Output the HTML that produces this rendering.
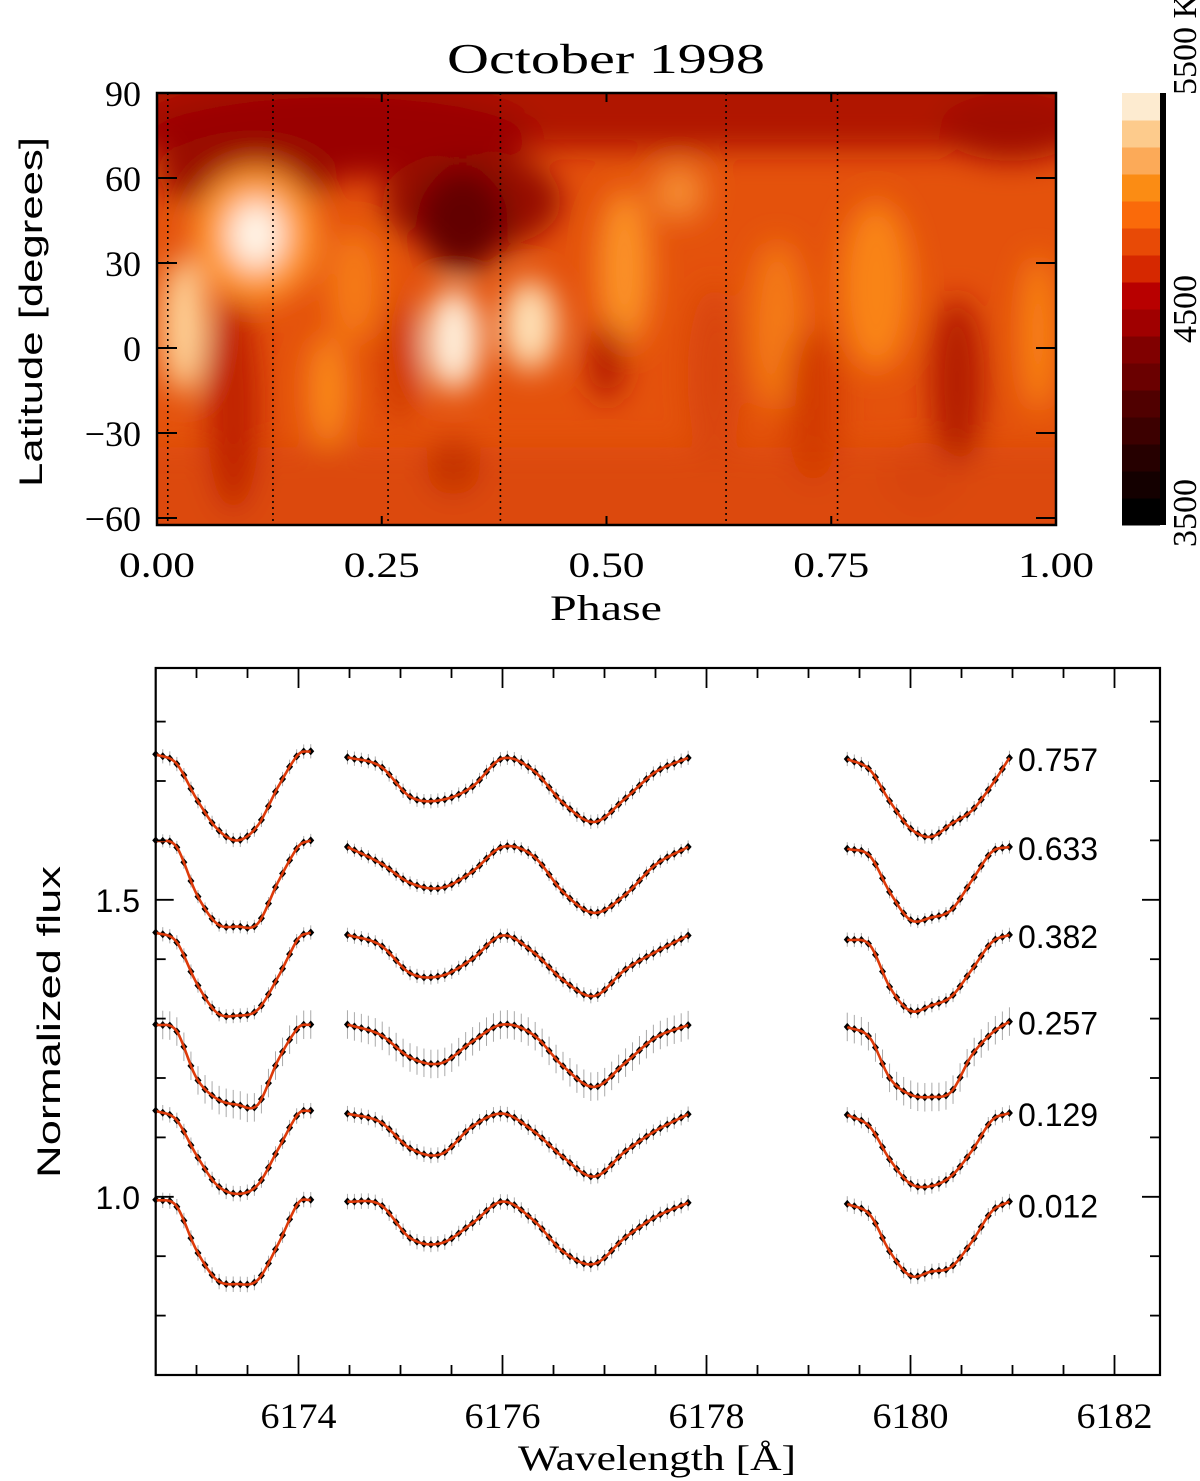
<!DOCTYPE html>
<html><head><meta charset="utf-8">
<style>
html,body{margin:0;padding:0;background:#fff;}
svg{display:block;}
.serif{font-family:"Liberation Serif",serif;}
.sans{font-family:"Liberation Sans",sans-serif;}
</style></head>
<body>
<svg id="fig" width="1200" height="1481" viewBox="0 0 1200 1481" xmlns="http://www.w3.org/2000/svg">
<defs>
  <clipPath id="mapclip"><rect x="157" y="93" width="899" height="432"/></clipPath>
  <filter id="blur" x="-20%" y="-20%" width="140%" height="140%"><feGaussianBlur stdDeviation="15"/></filter>
</defs>
<g id="map"></g>
<g id="cbar"></g>
<g id="spec"></g>
<text class="serif" x="606" y="73" font-size="42" text-anchor="middle" textLength="318" lengthAdjust="spacingAndGlyphs">October 1998</text>
<text class="serif" x="606" y="620" font-size="36" text-anchor="middle" textLength="112" lengthAdjust="spacingAndGlyphs">Phase</text>
<text class="sans" transform="translate(42,312) rotate(-90)" font-size="32" text-anchor="middle" textLength="350" lengthAdjust="spacingAndGlyphs">Latitude [degrees]</text>
<text class="sans" transform="translate(60,1022) rotate(-90)" font-size="32" text-anchor="middle" textLength="312" lengthAdjust="spacingAndGlyphs">Normalized flux</text>
<text class="serif" x="657" y="1470" font-size="36" text-anchor="middle" textLength="278" lengthAdjust="spacingAndGlyphs">Wavelength [Å]</text>
</svg>
<script>
// ---------- MAP DATA ----------
const obsPhases = [0.012, 0.129, 0.257, 0.382, 0.633, 0.757];
const latTicks = [90, 60, 30, 0, -30, -60];
const phaseTicks = [0.00, 0.25, 0.50, 0.75, 1.00];
const phaseTickLabels = ["0.00", "0.25", "0.50", "0.75", "1.00"];
// spot features: phase, latitude, phase radius, latitude radius, color
const spotPhase = [0.20, 0.10, 0.35, 0.34, 0.95, 0.11, 0.11, 0.03, 0.33, 0.415, 0.52, 0.19, 0.22, 0.80, 0.69, 0.98, 0.58, 0.085, 0.50, 0.89, 0.33, 0.27, 0.62, 0.73, 0.85];
const spotLat   = [76,   62,   52,   45,   78,   40,   40,   8,    3,    8,     28,   -15,  22,   22,   8,    5,    55,   -20,   -5,   -12,  -42,  -5,   -10,  -20,  -45];
const spotRp    = [0.22, 0.10, 0.10, 0.05, 0.08, 0.07, 0.03, 0.025,0.03, 0.03,  0.03, 0.022,0.03, 0.04, 0.03, 0.02, 0.03, 0.03,  0.02, 0.03, 0.03, 0.02, 0.03, 0.03, 0.04];
const spotRl    = [16,   14,   18,   18,   12,   24,   12,   24,   18,   16,    28,   20,   20,   30,   30,   28,   10,   38,    14,   30,   10,   22,   32,   28,   12];
const spotColor = ["#9a0600","#9a0800","#960800","#640000","#a00800","#ff9a30","#fff6ea","#ffd49a","#fff0dc","#ffe2b8","#fb9228","#fa8a1c","#f57a14","#f98418","#f47a14","#f98418","#f48a30","#c02000","#b41c00","#b41a00","#c43200","#d03a06","#d84408","#d23a06","#d84408"];
// ---------- COLORBAR DATA ----------
const cbarColors = ["#000000","#140000","#260000","#3c0000","#500000","#6a0000","#800000","#a00000","#b80000","#d62800","#e84a06","#fa6a0a","#fb8c14","#fcaa58","#fdcb8c","#fdebd0"];
const cbarLabels = ["3500", "4500", "5500 K"];
const cbarLabelVals = [0, 0.5, 1];

// ---------- SPECTRA DATA ----------
const specLabels = ["0.012", "0.129", "0.257", "0.382", "0.633", "0.757"];
const seg1W = [6172.6, 6172.8, 6173.0, 6173.2, 6173.4, 6173.6, 6173.8, 6174.0, 6174.12];
const seg2W = [6174.48, 6174.8, 6175.1, 6175.4, 6175.7, 6176.0, 6176.3, 6176.6, 6176.9, 6177.2, 6177.5, 6177.82];
const seg3W = [6179.38, 6179.6, 6179.8, 6180.0, 6180.2, 6180.4, 6180.6, 6180.8, 6180.97];
const seg1F = [
  [0.995, 0.985, 0.91, 0.86, 0.853, 0.86, 0.92, 0.99, 0.995],
  [1.145, 1.13, 1.07, 1.02, 1.005, 1.02, 1.08, 1.14, 1.145],
  [1.29, 1.28, 1.20, 1.165, 1.155, 1.155, 1.23, 1.285, 1.29],
  [1.445, 1.43, 1.36, 1.31, 1.305, 1.315, 1.37, 1.435, 1.445],
  [1.60, 1.59, 1.51, 1.46, 1.455, 1.46, 1.53, 1.59, 1.60],
  [1.745, 1.73, 1.67, 1.62, 1.60, 1.625, 1.69, 1.745, 1.75]
];
const seg2F = [
  [0.992, 0.987, 0.93, 0.922, 0.955, 0.992, 0.961, 0.907, 0.887, 0.931, 0.966, 0.99],
  [1.14, 1.126, 1.081, 1.072, 1.118, 1.14, 1.111, 1.066, 1.034, 1.076, 1.111, 1.139],
  [1.29, 1.273, 1.234, 1.225, 1.261, 1.29, 1.273, 1.219, 1.185, 1.225, 1.268, 1.289],
  [1.441, 1.424, 1.376, 1.372, 1.40, 1.44, 1.412, 1.364, 1.338, 1.382, 1.412, 1.44],
  [1.589, 1.562, 1.528, 1.52, 1.547, 1.589, 1.574, 1.512, 1.478, 1.508, 1.559, 1.589],
  [1.74, 1.725, 1.673, 1.668, 1.69, 1.738, 1.718, 1.662, 1.631, 1.67, 1.715, 1.739]
];
const seg3F = [
  [0.988, 0.97, 0.907, 0.867, 0.874, 0.882, 0.924, 0.976, 0.992],
  [1.138, 1.118, 1.062, 1.022, 1.018, 1.035, 1.077, 1.129, 1.141],
  [1.286, 1.268, 1.199, 1.172, 1.168, 1.177, 1.238, 1.276, 1.295],
  [1.433, 1.424, 1.352, 1.313, 1.322, 1.337, 1.382, 1.429, 1.441],
  [1.586, 1.574, 1.512, 1.466, 1.47, 1.483, 1.532, 1.581, 1.589],
  [1.737, 1.719, 1.665, 1.62, 1.606, 1.628, 1.65, 1.694, 1.739]
];
const errBar = [0.013, 0.013, 0.024, 0.012, 0.011, 0.012];
const wTicksMajor = [6174, 6176, 6178, 6180, 6182];
const fluxTicksMajor = [1.0, 1.5];

const NS = "http://www.w3.org/2000/svg";
function mk(tag, attrs, parent){const e=document.createElementNS(NS,tag);for(const k in attrs)e.setAttribute(k,attrs[k]);parent.appendChild(e);return e;}

// ---------- MAP ----------
const mapL=157, mapR=1056, mapT=93, mapB=525;
const px = p => mapL + p*(mapR-mapL);
const py = lat => 348 - lat*2.833;
const map = document.getElementById('map');
const clipG = mk('g',{'clip-path':'url(#mapclip)'},map);


mk('rect',{x:mapL,y:mapT,width:mapR-mapL,height:mapB-mapT,fill:'#e4520c'},clipG);
const blurG = mk('g',{filter:'url(#blur)'},clipG);
mk('rect',{x:mapL-40,y:mapT-40,width:mapR-mapL+80,height:py(70)-mapT+40,fill:'#b01200'},blurG);
mk('rect',{x:mapL-40,y:py(-35),width:mapR-mapL+80,height:mapB-py(-35)+40,fill:'#dc4a0a'},blurG);
for(let i=0;i<spotPhase.length;i++){
  const e = mk('ellipse',{cx:px(spotPhase[i]),cy:py(spotLat[i]),rx:spotRp[i]*(mapR-mapL),ry:spotRl[i]*2.833,fill:spotColor[i]},blurG);
  
  
}
for(const p of obsPhases){
  const l = mk('line',{x1:px(p),x2:px(p),y1:mapT,y2:mapB,stroke:'#000','stroke-width':1.6,'stroke-dasharray':'2 4'},map);
  
  
}
mk('rect',{x:mapL,y:mapT,width:mapR-mapL,height:mapB-mapT,fill:'none',stroke:'#000','stroke-width':2.5},map);
for(const lat of latTicks){
  mk('line',{x1:mapL,x2:mapL+20,y1:py(lat),y2:py(lat),stroke:'#000','stroke-width':2},map);
  mk('line',{x1:mapR-20,x2:mapR,y1:py(lat),y2:py(lat),stroke:'#000','stroke-width':2},map);
  const t = mk('text',{x:141,y:py(lat)+13,'font-size':36,'text-anchor':'end','class':'serif'},map);
  
  
  t.textContent = (lat<0?'\u2212':'')+Math.abs(lat);
}
phaseTicks.forEach((p,i)=>{
  mk('line',{x1:px(p),x2:px(p),y1:mapB,y2:mapB-9,stroke:'#000','stroke-width':2},map);
  mk('line',{x1:px(p),x2:px(p),y1:mapT,y2:mapT+9,stroke:'#000','stroke-width':2},map);
  const t = mk('text',{x:px(p),y:577,'font-size':36,'text-anchor':'middle','class':'serif',textLength:76,lengthAdjust:'spacingAndGlyphs'},map);
  
  
  t.textContent = phaseTickLabels[i];
});

// ---------- COLORBAR ----------
const cb = document.getElementById('cbar');
const cbT=93, cbB=525, cbX=1122, cbW=38;
const bh=(cbB-cbT)/cbarColors.length;
cbarColors.forEach((c,i)=>{
  const r = mk('rect',{x:cbX,y:cbB-(i+1)*bh,width:cbW,height:bh+0.5,fill:c},cb);
  
  
});
mk('rect',{x:1160,y:cbT,width:6,height:cbB-cbT,fill:'#000'},cb);
cbarLabels.forEach((s,i)=>{
  const y = cbB - cbarLabelVals[i]*(cbB-cbT);
  let tr;
  if(i===0) tr=`translate(1196,${cbB-12}) rotate(-90)`;
  else if(i===1) tr=`translate(1196,${y}) rotate(-90)`;
  else tr=`translate(1196,${cbT+2}) rotate(-90)`;
  const t = mk('text',{transform:tr,'font-size':34,'text-anchor':i===2?'start':'middle','class':'serif'},cb);
  
  
  t.textContent=s;
});

// ---------- SPECTRA ----------
const sp = document.getElementById('spec');
const sL=155.7, sR=1160, sT=668, sB=1375;
const wx = w => sL + (w-6172.6)*102;
const fy = f => 1375 - (f-0.7)*594;
function catmull(xs, ys, x){
  let i=0; while(i<xs.length-2 && x>xs[i+1]) i++;
  const x0=xs[Math.max(i-1,0)], x1=xs[i], x2=xs[i+1], x3=xs[Math.min(i+2,xs.length-1)];
  const y0=ys[Math.max(i-1,0)], y1=ys[i], y2=ys[i+1], y3=ys[Math.min(i+2,ys.length-1)];
  const t=(x-x1)/(x2-x1);
  const m1=(y2-y0)/((x2-x0)||1)*(x2-x1), m2=(y3-y1)/((x3-x1)||1)*(x2-x1);
  const t2=t*t,t3=t2*t;
  return (2*t3-3*t2+1)*y1+(t3-2*t2+t)*m1+(-2*t3+3*t2)*y2+(t3-t2)*m2;
}
const segs=[[seg1W,seg1F],[seg2W,seg2F],[seg3W,seg3F]];
for(let k=0;k<specLabels.length;k++){
  const g = mk('g',{},sp);
  
  
  segs.forEach(([W,F])=>{
    const ys=F[k];
    const w0=W[0], w1=W[W.length-1];
    const n=Math.round((w1-w0)/0.068);
    for(let j=0;j<=n;j++){
      const w=w0+(w1-w0)*j/n;
      const f=catmull(W,ys,w);
      const x=wx(w), y=fy(f);
      mk('line',{x1:x,x2:x,y1:fy(f+errBar[k]),y2:fy(f-errBar[k]),stroke:'#aaa','stroke-width':1},g);
      const d=mk('path',{d:`M${x-3.5},${y}L${x},${y-4}L${x+3.5},${y}L${x},${y+4}Z`,fill:'#000'},g);
      
      
    }
    let dstr='';
    for(let j=0;j<=120;j++){
      const w=w0+(w1-w0)*j/120;
      dstr+=(j?'L':'M')+wx(w).toFixed(1)+','+fy(catmull(W,ys,w)).toFixed(1);
    }
    const p=mk('path',{d:dstr,fill:'none',stroke:'#dd3a0a','stroke-width':2.6},g);
    
    
  });
  const cont = seg3F[k][seg3F[k].length-1];
  const t=mk('text',{x:1018,y:fy(cont)+13+(k===0?3:0),'font-size':32,'class':'sans'},sp);
  
  
  t.textContent=specLabels[k];
}
mk('rect',{x:sL,y:sT,width:sR-sL,height:sB-sT,fill:'none',stroke:'#000','stroke-width':2.2},sp);
for(let w=6173;w<=6182.4;w+=0.5){
  const major = wTicksMajor.some(m=>Math.abs(m-w)<1e-6);
  const len = major?20:10;
  mk('line',{x1:wx(w),x2:wx(w),y1:sB,y2:sB-len,stroke:'#000','stroke-width':1.8},sp);
  mk('line',{x1:wx(w),x2:wx(w),y1:sT,y2:sT+len,stroke:'#000','stroke-width':1.8},sp);
}
wTicksMajor.forEach(w=>{
  const t=mk('text',{x:wx(w),y:1428,'font-size':36,'text-anchor':'middle','class':'serif',textLength:76,lengthAdjust:'spacingAndGlyphs'},sp);
  
  
  t.textContent=String(w);
});
for(let f=0.8;f<=1.85;f+=0.1){
  const major = fluxTicksMajor.some(m=>Math.abs(m-f)<1e-6);
  const len = major?18:10;
  mk('line',{x1:sL,x2:sL+len,y1:fy(f),y2:fy(f),stroke:'#000','stroke-width':1.8},sp);
  mk('line',{x1:sR-len,x2:sR,y1:fy(f),y2:fy(f),stroke:'#000','stroke-width':1.8},sp);
}
fluxTicksMajor.forEach(f=>{
  const t=mk('text',{x:140,y:fy(f)+12,'font-size':32,'text-anchor':'end','class':'sans'},sp);
  
  
  t.textContent=f.toFixed(1);
});
</script>
</body></html>
